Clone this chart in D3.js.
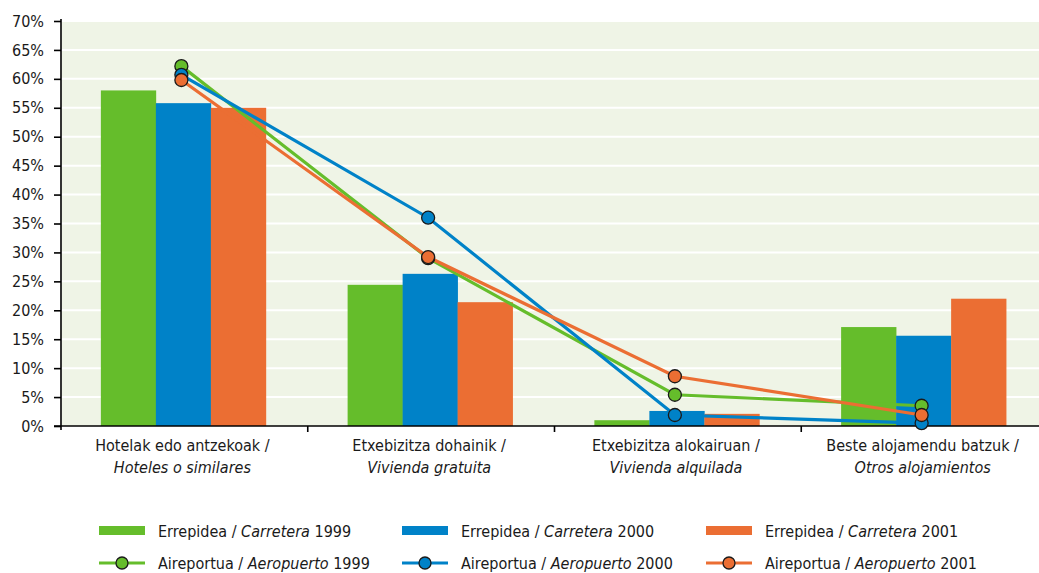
<!DOCTYPE html>
<html><head><meta charset="utf-8">
<script src="https://cdn.jsdelivr.net/npm/d3@7"></script>
<style>
body{margin:0;background:#fff;}
text{font-family:"Liberation Sans Narrow","DejaVu Sans Condensed","Roboto",sans-serif;fill:#1a1a1a;}
</style></head><body>
<svg id="c" width="1039" height="573"></svg>
<script>
const categoriesEu = ["Hotelak edo antzekoak /","Etxebizitza dohainik /","Etxebizitza alokairuan /","Beste alojamendu batzuk /"];
const categoriesEs = ["Hoteles o similares","Vivienda gratuita","Vivienda alquilada","Otros alojamientos"];
const years = ["1999","2000","2001"];
const colors = ["#65bd2b","#0082c8","#eb6e33"];
const road1999 = [58.0, 24.4, 1.0, 17.1];
const road2000 = [55.8, 26.3, 2.6, 15.6];
const road2001 = [55.0, 21.4, 2.1, 22.0];
const air1999 = [62.2, 29.0, 5.4, 3.5];
const air2000 = [60.7, 36.0, 1.9, 0.5];
const air2001 = [59.8, 29.2, 8.6, 1.9];
const yTicks = [0,5,10,15,20,25,30,35,40,45,50,55,60,65,70];

const road = [road1999, road2000, road2001];
const air = [air1999, air2000, air2001];

const svg = d3.select("#c");
const pLeft = 61, pRight = 1048, pTop = 21, pBottom = 426;
const x = d3.scaleBand().domain(d3.range(4)).range([pLeft, pRight]);
const xi = d3.scaleBand().domain(d3.range(3)).range([0, x.bandwidth()]).paddingOuter(0.743).paddingInner(0);
const y = d3.scaleLinear().domain([0,70]).range([pBottom, pTop]);

svg.append("rect").attr("x", pLeft+1).attr("y", pTop).attr("width", 1039-pLeft).attr("height", pBottom-pTop).attr("fill","#eff4e6");
svg.append("g").selectAll("line").data(yTicks.slice(1)).join("line")
  .attr("x1", pLeft+1).attr("x2", 1039).attr("y1", d=>y(d)).attr("y2", d=>y(d))
  .attr("stroke","#fff").attr("stroke-width",2);

// bars
road.forEach((s, si) => {
  svg.append("g").selectAll("rect").data(s).join("rect")
    .attr("x", (d,i)=>x(i)+xi(si)-1).attr("width", xi.bandwidth()+0.3)
    .attr("y", d=>y(d)).attr("height", d=>pBottom-y(d))
    .attr("fill", colors[si]);
});

// y axis
const yAxis = d3.axisLeft(y).tickValues(yTicks).tickSize(7).tickPadding(10).tickFormat(d=>d+"%");
const ga = svg.append("g").attr("transform",`translate(${pLeft},0)`).call(yAxis);
ga.select(".domain").attr("stroke","#000").attr("stroke-width",1.6).attr("d",`M0,${pTop-2}V${pBottom+4}`);
ga.selectAll(".tick line").attr("stroke","#000").attr("stroke-width",1.6);
ga.selectAll(".tick text").attr("font-size",16).style("fill","#1a1a1a").attr("font-family",null);
ga.attr("font-family",null);

// x axis
const gx = svg.append("g").attr("transform",`translate(0,${pBottom})`);
gx.append("line").attr("x1",pLeft-7).attr("x2",1039).attr("y1",0).attr("y2",0).attr("stroke","#000").attr("stroke-width",1.6);
gx.selectAll("line.t").data(d3.range(1,4)).join("line").attr("class","t")
  .attr("x1",d=>x(d)).attr("x2",d=>x(d)).attr("y1",0).attr("y2",6).attr("stroke","#000").attr("stroke-width",1.6);
const labs = gx.selectAll("text").data(d3.range(4)).join("text")
  .attr("text-anchor","middle").attr("font-size",16);
labs.append("tspan").attr("x",d=>x(d)+x.bandwidth()/2-2).attr("y",25).text(d=>categoriesEu[d]);
labs.append("tspan").attr("x",d=>x(d)+x.bandwidth()/2-2).attr("y",47).attr("font-style","italic").text(d=>categoriesEs[d]);

// lines
const cx = i => x(i)+x.bandwidth()/2-3;
air.forEach((s, si) => {
  svg.append("path").datum(s).attr("fill","none").attr("stroke",colors[si]).attr("stroke-width",3.2)
    .attr("d", d3.line().x((d,i)=>cx(i)).y(d=>y(d)));
});
air.forEach((s, si) => {
  svg.append("g").selectAll("circle").data(s).join("circle")
    .attr("cx",(d,i)=>cx(i)).attr("cy",d=>y(d)).attr("r",6.5)
    .attr("fill",colors[si]).attr("stroke","#1a1a1a").attr("stroke-width",1.3);
});

// legend
const legX = [99, 402, 706];
const leg = svg.append("g");
years.forEach((yr, i) => {
  leg.append("rect").attr("x",legX[i]).attr("y",526).attr("width",46).attr("height",9).attr("fill",colors[i]);
  const t1 = leg.append("text").attr("x",legX[i]+59).attr("y",537).attr("font-size",16);
  t1.append("tspan").text("Errepidea / ");
  t1.append("tspan").attr("font-style","italic").text("Carretera");
  t1.append("tspan").text(" "+yr);
  leg.append("line").attr("x1",legX[i]).attr("x2",legX[i]+46).attr("y1",563).attr("y2",563).attr("stroke",colors[i]).attr("stroke-width",3);
  leg.append("circle").attr("cx",legX[i]+23).attr("cy",563).attr("r",6).attr("fill",colors[i]).attr("stroke","#1a1a1a").attr("stroke-width",1.3);
  const t2 = leg.append("text").attr("x",legX[i]+59).attr("y",569).attr("font-size",16);
  t2.append("tspan").text("Aireportua / ");
  t2.append("tspan").attr("font-style","italic").text("Aeropuerto");
  t2.append("tspan").text(" "+yr);
});
</script>
</body></html>
